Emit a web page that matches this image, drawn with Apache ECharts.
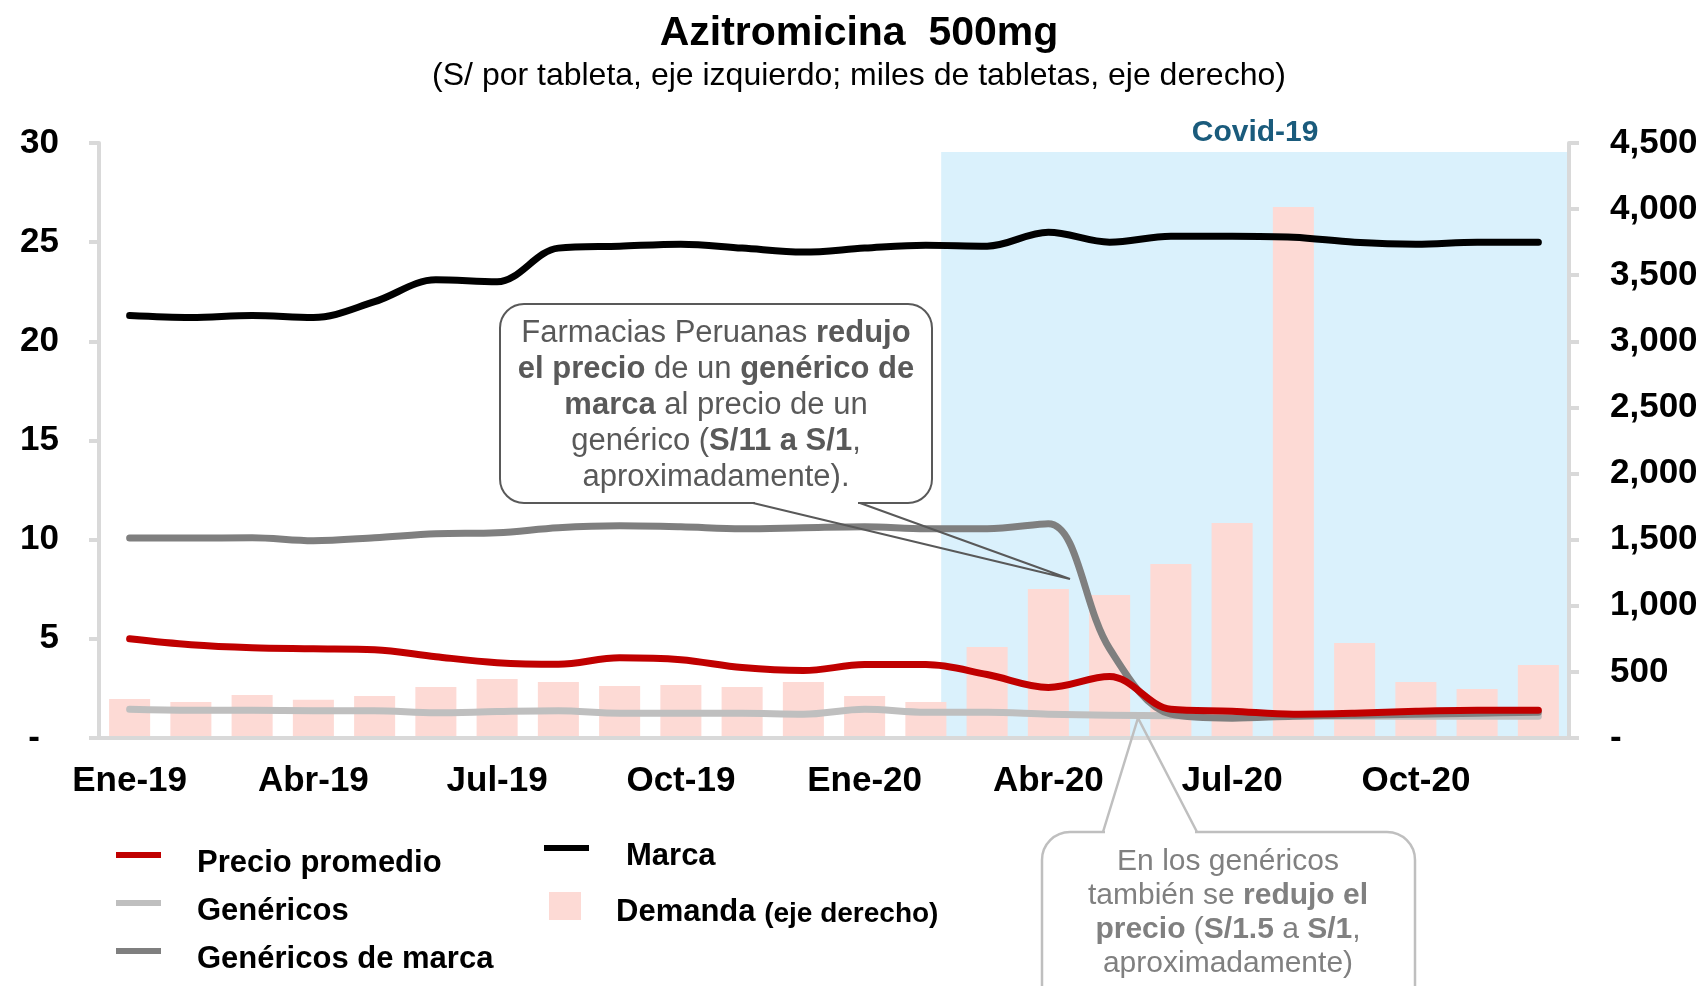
<!DOCTYPE html>
<html>
<head>
<meta charset="utf-8">
<script src="https://cdn.jsdelivr.net/npm/echarts@6.0.0/dist/echarts.min.js"></script>
<style>
  html, body { margin: 0; padding: 0; background: #fff; }
  #chart { width: 1706px; height: 986px; }
</style>
</head>
<body>
<div id="chart"></div>
<script>
// meses (eje x)
const months = ['Ene-19', 'Feb-19', 'Mar-19', 'Abr-19', 'May-19', 'Jun-19', 'Jul-19', 'Ago-19', 'Sep-19', 'Oct-19', 'Nov-19', 'Dic-19',
                'Ene-20', 'Feb-20', 'Mar-20', 'Abr-20', 'May-20', 'Jun-20', 'Jul-20', 'Ago-20', 'Sep-20', 'Oct-20', 'Nov-20', 'Dic-20'];

// miles de tabletas (eje derecho)
const demanda = [295, 272, 325, 290, 318, 385, 446, 424, 393, 400, 386, 424,
                 318, 272, 688, 1127, 1081, 1316, 1626, 4016, 718, 424, 370, 552];

// S/ por tableta (eje izquierdo)
const marca = [21.3, 21.2, 21.3, 21.2, 22.0, 23.1, 23.0, 24.7, 24.8, 24.9, 24.7, 24.5,
               24.7, 24.85, 24.8, 25.5, 25.0, 25.3, 25.3, 25.25, 25.0, 24.9, 25.0, 25.0];
const genericosMarca = [10.08, 10.08, 10.1, 9.95, 10.1, 10.3, 10.35, 10.6, 10.7, 10.65, 10.55, 10.6,
                        10.65, 10.55, 10.55, 10.8, 4.5, 1.2, 1.0, 1.1, 1.15, 1.2, 1.25, 1.3];
const precioPromedio = [5.0, 4.7, 4.55, 4.5, 4.45, 4.1, 3.8, 3.72, 4.05, 3.95, 3.55, 3.4,
                        3.7, 3.7, 3.2, 2.55, 3.1, 1.45, 1.35, 1.2, 1.25, 1.35, 1.4, 1.4];
const genericos = [1.45, 1.4, 1.4, 1.38, 1.38, 1.27, 1.33, 1.37, 1.25, 1.25, 1.25, 1.2,
                   1.45, 1.3, 1.3, 1.2, 1.15, 1.12, 1.1, 1.1, 1.1, 1.1, 1.1, 1.1];

// periodo Covid-19 (en unidades de mes sobre el eje oculto)
const covidStart = 13.75;
const covidEnd = 24;

const FONT = "'Liberation Sans', Arial, sans-serif";
const axisGrey = '#D9D9D9';

const chart = echarts.init(document.getElementById('chart'));

const legendText = {
    color: '#000',
    fontFamily: FONT,
    fontWeight: 'bold',
    fontSize: 31
};

// texto de leyenda algo mas abajo que su muestra
const legendRich = {
    t: { fontFamily: FONT, fontWeight: 'bold', fontSize: 31, color: '#000', lineHeight: 20, padding: [17, 0, 0, 0] }
};

function lineSeries(name, data, color, z) {
    return {
        name: name,
        type: 'line',
        data: data,
        smooth: 0.35,
        symbol: 'none',
        z: z,
        itemStyle: { color: color },
        lineStyle: { color: color, width: 7, cap: 'round', join: 'round' }
    };
}

const calloutDark = '#595959';
const calloutLight = '#BFBFBF';

const richDark = {
    n: { fontFamily: FONT, fontSize: 31, lineHeight: 36, fill: calloutDark },
    b: { fontFamily: FONT, fontSize: 31, lineHeight: 36, fill: calloutDark, fontWeight: 'bold' }
};
const richLight = {
    n: { fontFamily: FONT, fontSize: 30, lineHeight: 34, fill: '#808080' },
    b: { fontFamily: FONT, fontSize: 30, lineHeight: 34, fill: '#808080', fontWeight: 'bold' }
};

const legendLine = { cap: 'butt', width: 6 };

const option = {
    backgroundColor: '#fff',
    animation: false,
    title: {
        text: 'Azitromicina  500mg',
        subtext: '(S/ por tableta, eje izquierdo; miles de tabletas, eje derecho)',
        left: 859,
        textAlign: 'center',
        top: 13,
        padding: 0,
        itemGap: 6,
        textStyle: { fontFamily: FONT, fontSize: 41, fontWeight: 'bold', color: '#000' },
        subtextStyle: { fontFamily: FONT, fontSize: 32, color: '#000' }
    },
    grid: { left: 99, right: 137, top: 143, bottom: 248 },
    legend: [
        {
            data: [
                { name: 'Precio promedio', icon: 'rect' },
                { name: 'Genéricos', icon: 'rect' },
                { name: 'Genéricos de marca', icon: 'rect' }
            ],
            orient: 'vertical',
            left: 111,
            top: 826,
            height: 300,
            itemWidth: 45,
            itemHeight: 6,
            itemGap: 0,
            itemStyle: { borderWidth: 0 },
            lineStyle: legendLine,
            formatter: function (name) { return '{t|' + name + '}'; },
            textStyle: Object.assign({ padding: [0, 0, 0, 31], rich: legendRich }, legendText)
        },
        {
            data: [{ name: 'Marca', icon: 'rect' }],
            orient: 'vertical',
            left: 539,
            top: 819,
            height: 100,
            itemWidth: 45,
            itemHeight: 6,
            itemStyle: { borderWidth: 0 },
            lineStyle: legendLine,
            formatter: function (name) { return '{t|' + name + '}'; },
            textStyle: Object.assign({ padding: [0, 0, 0, 32], rich: legendRich }, legendText)
        },
        {
            data: [{ name: 'Demanda', icon: 'rect' }],
            orient: 'vertical',
            left: 544,
            top: 880,
            itemWidth: 32,
            itemHeight: 28,
            itemStyle: { borderWidth: 0 },
            formatter: function (name) { return name + ' {s|(eje derecho)}'; },
            textStyle: Object.assign({
                lineHeight: 30,
                padding: [12, 0, 0, 30],
                rich: { s: { fontFamily: FONT, fontWeight: 'bold', fontSize: 28, color: '#000', padding: [5, 0, 0, 0] } }
            }, legendText)
        }
    ],
    xAxis: [
        {
            type: 'category',
            data: months,
            z: 10,
            axisLine: { lineStyle: { color: axisGrey, width: 4 } },
            axisTick: { interval: 2, length: 10, lineStyle: { color: axisGrey, width: 4 } },
            axisLabel: {
                interval: 2,
                margin: 26,
                color: '#000',
                fontFamily: FONT,
                fontWeight: 'bold',
                fontSize: 35
            }
        },
        { type: 'value', min: 0, max: 24, show: false }
    ],
    yAxis: [
        {
            type: 'value',
            min: 0,
            max: 30,
            interval: 5,
            z: 10,
            splitLine: { show: false },
            axisLine: { show: true, lineStyle: { color: axisGrey, width: 4 } },
            axisTick: { show: true, length: 10, lineStyle: { color: axisGrey, width: 4 } },
            axisLabel: {
                margin: 40,
                color: '#000',
                fontFamily: FONT,
                fontWeight: 'bold',
                fontSize: 35,
                formatter: function (v) { return v === 0 ? '{z|-}' : String(v); },
                rich: { z: { fontFamily: FONT, fontWeight: 'bold', fontSize: 35, color: '#000', padding: [0, 19, 0, 0] } }
            }
        },
        {
            type: 'value',
            min: 0,
            max: 4500,
            interval: 500,
            position: 'right',
            z: 10,
            splitLine: { show: false },
            axisLine: { show: true, lineStyle: { color: axisGrey, width: 4 } },
            axisTick: { show: true, length: 10, lineStyle: { color: axisGrey, width: 4 } },
            axisLabel: {
                margin: 41,
                color: '#000',
                fontFamily: FONT,
                fontWeight: 'bold',
                fontSize: 35,
                formatter: function (v) { return v === 0 ? '-' : v.toLocaleString('en-US'); }
            }
        }
    ],
    series: [
        {
            // solo para sombrear el periodo Covid-19
            type: 'line',
            xAxisIndex: 1,
            yAxisIndex: 0,
            data: [],
            silent: true,
            markArea: {
                silent: true,
                itemStyle: { color: '#DAF1FC' },
                label: {
                    show: true,
                    position: 'top',
                    distance: 4,
                    color: '#1A5B7C',
                    fontFamily: FONT,
                    fontWeight: 'bold',
                    fontSize: 30
                },
                data: [[
                    { name: 'Covid-19', xAxis: covidStart, yAxis: 29.55 },
                    { xAxis: covidEnd, yAxis: 0 }
                ]]
            }
        },
        {
            name: 'Demanda',
            type: 'bar',
            yAxisIndex: 1,
            data: demanda,
            barWidth: '67%',
            z: 2,
            itemStyle: { color: '#FDDAD5' }
        },
        lineSeries('Genéricos', genericos, '#BFBFBF', 3),
        lineSeries('Genéricos de marca', genericosMarca, '#7F7F7F', 4),
        lineSeries('Precio promedio', precioPromedio, '#C00000', 5),
        lineSeries('Marca', marca, '#000000', 6)
    ],
    graphic: [
        // globo 1
        {
            type: 'rect', z: 100,
            shape: { x: 500, y: 304, width: 432, height: 199, r: 24 },
            style: { fill: 'none', stroke: calloutDark, lineWidth: 2 }
        },
        {
            type: 'line', z: 101,
            shape: { x1: 755, y1: 503, x2: 858, y2: 503 },
            style: { stroke: '#fff', lineWidth: 4 }
        },
        {
            type: 'polyline', z: 102,
            shape: { points: [[753, 503], [1070, 579], [860, 503]] },
            style: { fill: 'none', stroke: calloutDark, lineWidth: 2 }
        },
        {
            type: 'text', z: 103,
            x: 716, y: 405,
            style: {
                text: '{n|Farmacias Peruanas }{b|redujo}\n' +
                      '{b|el precio}{n| de un }{b|genérico de}\n' +
                      '{b|marca}{n| al precio de un}\n' +
                      '{n|genérico (}{b|S/11 a S/1}{n|,}\n' +
                      '{n|aproximadamente).}',
                rich: richDark,
                align: 'center',
                verticalAlign: 'middle'
            }
        },
        // globo 2
        {
            type: 'rect', z: 100,
            shape: { x: 1042, y: 832, width: 373, height: 200, r: 28 },
            style: { fill: 'none', stroke: calloutLight, lineWidth: 2.5 }
        },
        {
            type: 'line', z: 101,
            shape: { x1: 1105, y1: 832, x2: 1195, y2: 832 },
            style: { stroke: '#fff', lineWidth: 5 }
        },
        {
            type: 'polyline', z: 102,
            shape: { points: [[1103, 832], [1138, 718], [1197, 832]] },
            style: { fill: 'none', stroke: calloutLight, lineWidth: 2.5 }
        },
        {
            type: 'text', z: 103,
            x: 1228, y: 913,
            style: {
                text: '{n|En los genéricos}\n' +
                      '{n|también se }{b|redujo el}\n' +
                      '{b|precio}{n| (}{b|S/1.5}{n| a }{b|S/1}{n|,}\n' +
                      '{n|aproximadamente)}',
                rich: richLight,
                align: 'center',
                verticalAlign: 'middle'
            }
        }
    ]
};

chart.setOption(option);
</script>
</body>
</html>
